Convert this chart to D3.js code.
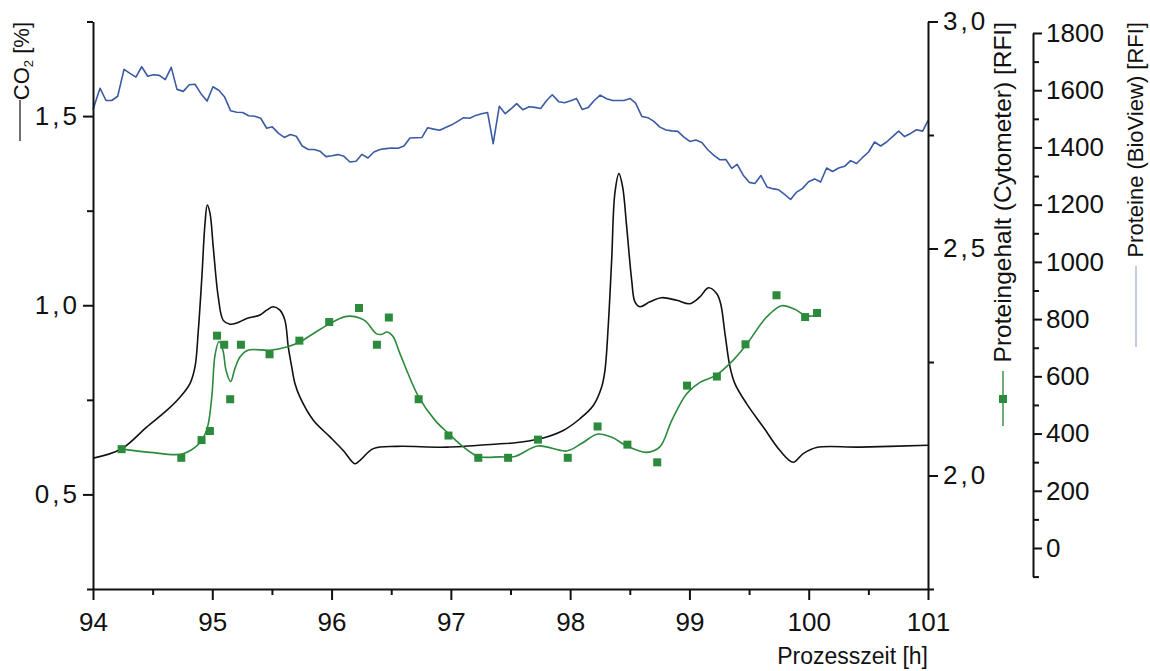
<!DOCTYPE html>
<html><head><meta charset="utf-8">
<script src="https://cdn.jsdelivr.net/npm/d3@7"></script>
<style>
body{margin:0;background:#fff}
svg{display:block;background:#fff}
text{font-family:"Liberation Sans",Arial,sans-serif;fill:#111}
</style>
</head><body>
<svg id="chart" width="1150" height="671"></svg>
<script>
// ---- data ----
const xTicks = [94, 95, 96, 97, 98, 99, 100, 101];
const xMinorTicks = [94.5, 95.5, 96.5, 97.5, 98.5, 99.5, 100.5];
const co2Ticks = [0.5, 1.0, 1.5];
const co2MinorTicks = [0.25, 0.75, 1.25, 1.75];
const cytoTicks = [2.0, 2.5, 3.0];
const cytoMinorTicks = [1.75, 2.25, 2.75];
const bioTicks = [0, 200, 400, 600, 800, 1000, 1200, 1400, 1600, 1800];
const bioMinorTicks = [-100, 100, 300, 500, 700, 900, 1100, 1300, 1500, 1700];

// CO2 [%] (left axis)
const co2Time = [94.003,94.237,94.450,94.618,94.729,94.813,94.855,94.883,94.911,94.939,94.958,94.981,95.008,95.050,95.092,95.148,95.205,95.288,95.400,95.456,95.511,95.567,95.609,95.637,95.666,95.693,95.735,95.847,95.987,96.098,96.196,96.238,96.350,96.546,96.965,97.412,97.523,97.747,97.942,98.082,98.194,98.264,98.292,98.319,98.348,98.375,98.409,98.440,98.474,98.516,98.543,98.585,98.668,98.767,98.893,99.004,99.088,99.158,99.228,99.262,99.298,99.340,99.381,99.479,99.619,99.759,99.870,99.954,100.066,100.429,101.0];
const co2Value = [0.596,0.620,0.678,0.722,0.757,0.793,0.837,0.934,1.066,1.216,1.265,1.243,1.154,1.022,0.960,0.950,0.953,0.965,0.974,0.987,0.996,0.987,0.960,0.890,0.837,0.793,0.757,0.696,0.652,0.616,0.581,0.590,0.621,0.627,0.625,0.634,0.636,0.647,0.669,0.700,0.735,0.784,0.828,0.943,1.119,1.296,1.348,1.313,1.207,1.066,1.009,0.996,1.009,1.020,1.013,1.004,1.022,1.046,1.031,1.004,0.925,0.837,0.793,0.740,0.678,0.616,0.585,0.608,0.624,0.625,0.630];

// Proteingehalt (Cytometer) [RFI] – measured points
const cytoTime = [94.24,94.74,94.91,94.98,95.04,95.10,95.15,95.24,95.48,95.73,95.98,96.23,96.38,96.48,96.73,96.98,97.23,97.48,97.73,97.98,98.23,98.48,98.73,98.98,99.23,99.47,99.73,99.97,100.07];
const cytoValue = [2.058,2.039,2.078,2.098,2.308,2.288,2.168,2.288,2.267,2.297,2.338,2.369,2.288,2.348,2.168,2.088,2.039,2.039,2.079,2.039,2.108,2.068,2.029,2.198,2.218,2.289,2.397,2.349,2.358];

// Proteingehalt (Cytometer) – smoothed curve as drawn
const cytoFitTime = [94.237,94.478,94.738,94.855,94.922,94.964,94.997,95.023,95.056,95.090,95.115,95.154,95.190,95.232,95.299,95.484,95.624,95.733,95.861,95.981,96.113,96.196,96.280,96.378,96.423,96.464,96.515,96.574,96.730,96.866,96.982,97.104,97.230,97.412,97.537,97.730,97.971,98.099,98.227,98.350,98.476,98.641,98.752,98.853,98.977,99.089,99.225,99.367,99.474,99.647,99.773,99.884,99.974,100.060];
const cytoFitValue = [2.058,2.051,2.047,2.062,2.082,2.111,2.177,2.265,2.295,2.275,2.232,2.207,2.236,2.261,2.276,2.276,2.283,2.294,2.315,2.334,2.350,2.350,2.341,2.312,2.311,2.316,2.306,2.268,2.173,2.122,2.092,2.063,2.042,2.041,2.042,2.065,2.054,2.071,2.091,2.084,2.065,2.051,2.063,2.122,2.180,2.205,2.221,2.254,2.287,2.349,2.374,2.366,2.352,2.352];

// Proteine (BioView) [RFI]
const bioTime = [94.000,94.059,94.109,94.157,94.207,94.260,94.310,94.360,94.408,94.459,94.505,94.556,94.606,94.656,94.704,94.757,94.807,94.855,94.905,94.956,95.006,95.056,95.104,95.154,95.205,95.255,95.305,95.355,95.406,95.456,95.503,95.553,95.604,95.654,95.704,95.754,95.805,95.855,95.903,95.953,96.003,96.054,96.104,96.154,96.205,96.255,96.305,96.355,96.406,96.456,96.506,96.557,96.607,96.657,96.707,96.758,96.806,96.856,96.906,96.956,97.007,97.057,97.107,97.158,97.208,97.258,97.308,97.355,97.406,97.456,97.504,97.552,97.602,97.657,97.705,97.753,97.803,97.850,97.904,97.954,98.004,98.054,98.101,98.152,98.202,98.252,98.306,98.356,98.403,98.451,98.504,98.549,98.602,98.652,98.702,98.753,98.803,98.853,98.903,98.954,99.004,99.054,99.104,99.154,99.205,99.255,99.305,99.355,99.400,99.451,99.501,99.549,99.599,99.650,99.697,99.748,99.798,99.848,99.899,99.949,99.999,100.049,100.100,100.150,100.200,100.251,100.301,100.351,100.401,100.452,100.502,100.552,100.603,100.653,100.703,100.754,100.804,100.854,100.904,100.955,101.000];
const bioValue = [1533,1607,1564,1564,1579,1673,1659,1646,1682,1649,1654,1652,1637,1680,1603,1596,1619,1621,1588,1562,1612,1599,1576,1528,1523,1522,1511,1509,1502,1467,1472,1450,1435,1445,1439,1405,1393,1393,1387,1368,1371,1375,1369,1349,1352,1376,1363,1384,1393,1396,1398,1397,1405,1433,1434,1435,1469,1464,1460,1470,1479,1491,1504,1502,1512,1518,1522,1413,1544,1518,1535,1553,1532,1542,1540,1536,1564,1584,1560,1556,1563,1571,1533,1540,1564,1583,1570,1564,1564,1564,1571,1555,1508,1504,1491,1471,1461,1458,1456,1436,1421,1426,1417,1392,1372,1357,1358,1327,1341,1303,1278,1274,1302,1262,1256,1252,1236,1218,1244,1257,1280,1290,1279,1328,1316,1328,1334,1354,1344,1365,1384,1419,1405,1419,1438,1457,1438,1449,1462,1457,1494];

// ---- drawing ----
const svg = d3.select("#chart");
const x = d3.scaleLinear().domain([94, 101]).range([93, 928]);
const yL = d3.scaleLinear().domain([0.25, 1.75]).range([589, 21.5]);
const yC = d3.scaleLinear().domain([1.75, 3.0]).range([589, 21.5]);
const yB = d3.scaleLinear().domain([-100, 1800]).range([576.6, 33]);

const comma = d => d3.format(".1f")(d).replace(".", ",");
const ink = "#111";
const green = "#2b8a3c";
const blue = "#3a5ba3";
const tickFont = 26;

function styleAxis(g, fs, spacing) {
  g.selectAll(".domain").attr("stroke", ink).attr("stroke-width", 2);
  g.selectAll(".tick line").attr("stroke", ink).attr("stroke-width", 2);
  g.selectAll(".tick text").attr("font-size", fs).attr("fill", ink)
    .attr("letter-spacing", spacing || 0)
    .attr("font-family", '"Liberation Sans", Arial, sans-serif');
}

// data lines first (axes on top)
const co2Data = co2Time.map((t, i) => [t, co2Value[i]]);
svg.append("path").datum(co2Data)
  .attr("fill", "none").attr("stroke", ink).attr("stroke-width", 1.6)
  .attr("d", d3.line().x(d => x(d[0])).y(d => yL(d[1])).curve(d3.curveCatmullRom.alpha(0.5)));

const bioData = bioTime.map((t, i) => [t, bioValue[i]]);
svg.append("path").datum(bioData)
  .attr("fill", "none").attr("stroke", blue).attr("stroke-width", 1.6).attr("stroke-linejoin", "round")
  .attr("d", d3.line().x(d => x(d[0])).y(d => yB(d[1])));

const fitData = cytoFitTime.map((t, i) => [t, cytoFitValue[i]]);
svg.append("path").datum(fitData)
  .attr("fill", "none").attr("stroke", green).attr("stroke-width", 1.6)
  .attr("d", d3.line().x(d => x(d[0])).y(d => yC(d[1])).curve(d3.curveCatmullRom.alpha(0.5)));

const cytoData = cytoTime.map((t, i) => [t, cytoValue[i]]);
const ms = 8;
svg.append("g").selectAll("rect").data(cytoData).join("rect")
  .attr("x", d => x(d[0]) - ms / 2).attr("y", d => yC(d[1]) - ms / 2)
  .attr("width", ms).attr("height", ms).attr("fill", green);

// x axis
const gx = svg.append("g").attr("transform", "translate(0,589)");
gx.call(d3.axisBottom(x).tickValues(xTicks).tickFormat(d3.format("d")).tickSize(11).tickSizeOuter(0).tickPadding(13));
gx.append("g").call(d3.axisBottom(x).tickValues(xMinorTicks).tickFormat("").tickSize(6).tickSizeOuter(0))
  .select(".domain").remove();
styleAxis(gx, tickFont);

// left axis (CO2)
const gl = svg.append("g").attr("transform", "translate(93,0)");
gl.call(d3.axisLeft(yL).tickValues(co2Ticks).tickFormat(comma).tickSize(10).tickSizeOuter(0).tickPadding(3));
gl.append("g").call(d3.axisLeft(yL).tickValues(co2MinorTicks).tickFormat("").tickSize(6).tickSizeOuter(0))
  .select(".domain").remove();
styleAxis(gl, tickFont, 3);

// right axis (Cytometer)
const gc = svg.append("g").attr("transform", "translate(928,0)");
gc.call(d3.axisRight(yC).tickValues(cytoTicks).tickFormat(comma).tickSize(10).tickSizeOuter(0).tickPadding(5));
gc.append("g").call(d3.axisRight(yC).tickValues(cytoMinorTicks).tickFormat("").tickSize(6).tickSizeOuter(0))
  .select(".domain").remove();
styleAxis(gc, tickFont, 3);

// offset right axis (BioView)
const gb = svg.append("g").attr("transform", "translate(1033,0)");
gb.call(d3.axisRight(yB).tickValues(bioTicks).tickFormat(d3.format("d")).tickSize(9).tickSizeOuter(0).tickPadding(4));
gb.append("g").call(d3.axisRight(yB).tickValues(bioMinorTicks).tickFormat("").tickSize(6).tickSizeOuter(0))
  .select(".domain").remove();
styleAxis(gb, tickFont);

// axis titles
svg.append("text").attr("x", 928).attr("y", 664).attr("text-anchor", "end")
  .attr("font-size", 23).text("Prozesszeit [h]");

// CO2 label
const co2Lab = svg.append("text").attr("transform", "translate(29,22) rotate(-90)")
  .attr("text-anchor", "end").attr("font-size", 22);
co2Lab.append("tspan").text("CO");
co2Lab.append("tspan").attr("font-size", 13).attr("dy", 4).text("2");
co2Lab.append("tspan").attr("dy", -4).text(" [%]");
svg.append("line").attr("x1", 20).attr("x2", 20).attr("y1", 100).attr("y2", 141)
  .attr("stroke", ink).attr("stroke-width", 1.2);

// Cytometer label + legend symbol
svg.append("text").attr("transform", "translate(1011,22) rotate(-90)")
  .attr("text-anchor", "end").attr("font-size", 24.5).text("Proteingehalt (Cytometer) [RFI]");
svg.append("line").attr("x1", 1003).attr("x2", 1003).attr("y1", 371).attr("y2", 426)
  .attr("stroke", green).attr("stroke-width", 1.4);
svg.append("rect").attr("x", 999).attr("y", 395).attr("width", 8).attr("height", 8).attr("fill", green);

// BioView label + legend line
svg.append("text").attr("transform", "translate(1143,22) rotate(-90)")
  .attr("text-anchor", "end").attr("font-size", 22).text("Proteine (BioView) [RFI]");
svg.append("line").attr("x1", 1136).attr("x2", 1136).attr("y1", 266).attr("y2", 347)
  .attr("stroke", "#8a96bc").attr("stroke-width", 1);
</script>
</body></html>
